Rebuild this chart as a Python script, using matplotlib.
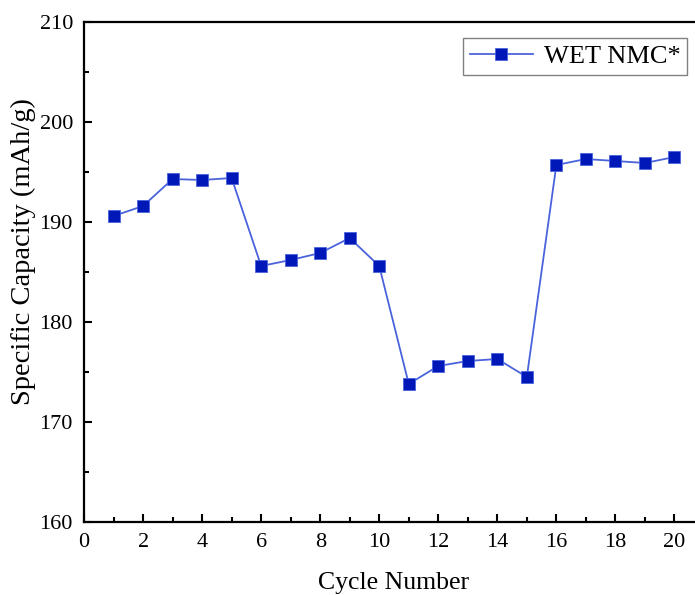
import matplotlib
matplotlib.use("Agg")
import matplotlib.pyplot as plt
from matplotlib.ticker import MultipleLocator

plt.rcParams['font.family'] = ['Liberation Serif', 'DejaVu Serif']

# Specific capacity per cycle
cycles = [1, 2, 3, 4, 5, 6, 7, 8, 9, 10, 11, 12, 13, 14, 15, 16, 17, 18, 19, 20]
capacity = [190.6, 191.6, 194.3, 194.2, 194.4, 185.6, 186.2, 186.9, 188.4, 185.6,
            173.8, 175.6, 176.1, 176.3, 174.5, 195.7, 196.3, 196.1, 195.9, 196.5]
series_label = "WET NMC*"
x_ticks = [0, 2, 4, 6, 8, 10, 12, 14, 16, 18, 20]
y_ticks = [160, 170, 180, 190, 200, 210]

fig = plt.figure(figsize=(6.95, 5.95), dpi=100)
ax = fig.add_axes([0.1209, 0.1227, 0.892, 0.8403])

ax.plot(cycles, capacity, color='#4a63dc', linewidth=1.3,
        marker='s', markersize=8.5, markerfacecolor='#0018b8',
        markeredgecolor='#4a63dc', markeredgewidth=0.6, label=series_label)

ax.set_xlim(0, 21)
ax.set_ylim(160, 210)
ax.set_xticks(x_ticks)
ax.set_yticks(y_ticks)
ax.xaxis.set_minor_locator(MultipleLocator(1))
ax.yaxis.set_minor_locator(MultipleLocator(5))
ax.tick_params(which='both', direction='in', top=False, right=False,
               width=1.5, labelsize=16, pad=8)
ax.tick_params(which='major', length=6)
ax.tick_params(which='minor', length=3.5)
for s in ax.spines.values():
    s.set_linewidth(1.6)

ax.set_xlabel("Cycle Number", fontsize=18.5, labelpad=14)
ax.set_ylabel("Specific Capacity (mAh/g)", fontsize=20.5)
ax.yaxis.set_label_coords(-0.077, 0.54)

leg = ax.legend(loc='upper right', bbox_to_anchor=(0.9885, 0.936),
                bbox_transform=fig.transFigure, borderaxespad=0,
                fontsize=19, fancybox=False, framealpha=1,
                handlelength=2.4, handletextpad=0.4, borderpad=0.25)
leg.get_frame().set_edgecolor('#808080')
leg.get_frame().set_linewidth(1.0)

fig.savefig("out.png", dpi=100)
